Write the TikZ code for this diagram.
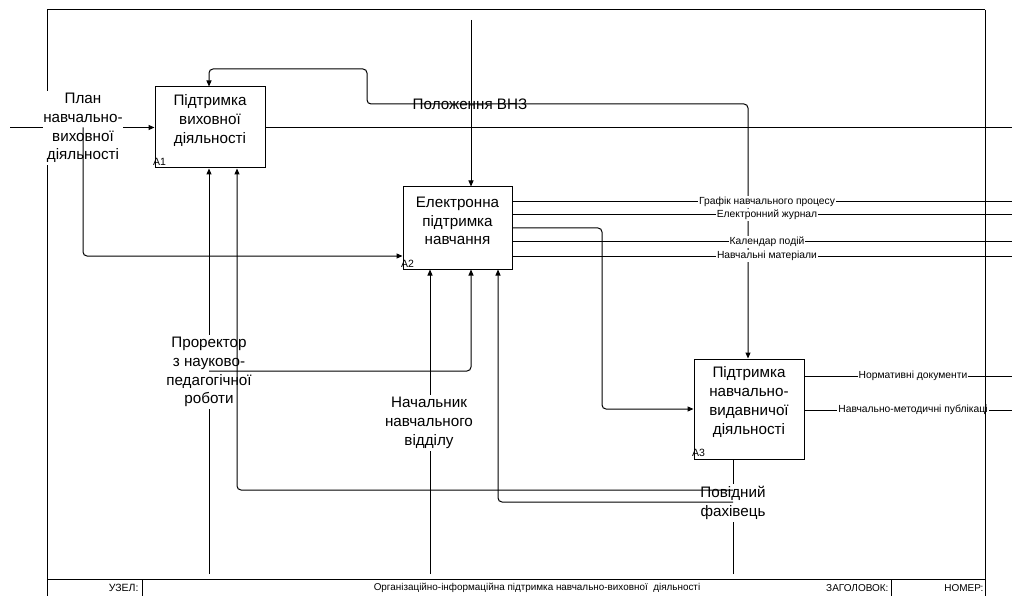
\documentclass[tikz,border=0pt]{standalone}
\usepackage{fontspec}
\setmainfont{Liberation Sans}
\usetikzlibrary{arrows.meta}
\begin{document}
\begin{tikzpicture}[x=1pt,y=-1pt, line width=1pt,
  >={Triangle[length=6pt,width=5pt]},
  boxnode/.style={draw, inner sep=0pt},
  boxtext/.style={align=center, font=\fontsize{15.2}{18.8}\selectfont, inner sep=0pt},
  lab/.style={align=center, font=\fontsize{15.2}{18.8}\selectfont, fill=white, inner xsep=0pt, inner ysep=2pt},
  ctl/.style={align=center, font=\fontsize{15.2}{18.8}\selectfont, inner sep=0pt},
  small/.style={font=\fontsize{10.3}{12}\selectfont, fill=white, inner xsep=1pt, inner ysep=1pt},
  idx/.style={font=\fontsize{10.5}{12}\selectfont, inner sep=0pt, anchor=south west},
  foot/.style={font=\fontsize{10}{12}\selectfont, inner sep=0pt},
  arr/.style={->, rounded corners=4pt},
  conn/.style={rounded corners=4pt}]
\useasboundingbox (0,0) rectangle (1012,596);
% frame
\draw (985,10) -- (47,10) -- (47,596);
\draw (47,579) -- (985,579);
\draw (142,579) -- (142,596);
\draw (891,579) -- (891,596);
% boxes
\node[boxnode, minimum width=110pt, minimum height=81pt] (A1) at (210,127.5) {};
\node[boxtext] (A1t) at (210,120.5) {Підтримка\\виховної\\діяльності};
\node[idx] (A1n) at ([xshift=-2pt,yshift=2pt]A1.south west) {A1};
\node[boxnode, minimum width=109pt, minimum height=82pt] (A2) at (457.5,228) {};
\node[boxtext] (A2t) at (457.5,221) {Електронна\\підтримка\\навчання};
\node[idx] (A2n) at ([xshift=-2pt,yshift=2pt]A2.south west) {A2};
\node[boxnode, minimum width=110pt, minimum height=100pt] (A3) at (749,409) {};
\node[boxtext] (A3t) at (749,402) {Підтримка\\навчально-\\видавничої\\діяльності};
\node[idx] (A3n) at ([xshift=-2pt,yshift=2pt]A3.south west) {A3};
% input
\coordinate (in) at (10,127.5);
\draw[->] (in) -- (A1.west);
\node[lab] (Lplan) at (83,128) {План\\навчально-\\виховної\\діяльності};
\coordinate (br1) at (83,127.5);
\draw[arr] (br1) -- (83,256) -- (A2.west |- 0,256);
% A1 output
\coordinate (o1) at (1012,127.5);
\draw (A1.east) -- (o1);
% control
\coordinate (c0) at (471,20);
\coordinate (cb) at (471,104);
\draw[->] (c0) -- (471,0 |- A2.north);
\draw[arr] (cb) -- (367,104) -- (367,69) -- (209,69) -- (209,0 |- A1.north);
\draw[arr] (cb) -- (748,104) -- (748,0 |- A3.north);
\node[ctl] (Lctl) at (470,104) {Положення ВНЗ};
% A2 outputs
\coordinate (o21) at (1012,202);
\coordinate (o22) at (1012,215);
\coordinate (o24) at (1012,242);
\coordinate (o25) at (1012,256);
\draw (A2.east |- 0,202) -- (o21);
\draw (A2.east |- 0,215) -- (o22);
\draw[arr] (A2.east |- 0,228) -- (602,228) -- (602,409) -- (A3.west);
\draw (A2.east |- 0,242) -- (o24);
\draw (A2.east |- 0,256) -- (o25);
\node[small] (L21) at (767,202) {Графік навчального процесу};
\node[small] (L22) at (767,215) {Електронний журнал};
\node[small] (L24) at (767,242) {Календар подій};
\node[small] (L25) at (767,256) {Навчальні матеріали};
% A3 outputs
\coordinate (o31) at (1012,376);
\coordinate (o32) at (1012,410);
\draw (A3.east |- 0,376) -- (o31);
\draw (A3.east |- 0,410) -- (o32);
\node[small] (L31) at (913,376) {Нормативні документи};
\node[small] (L32) at (913,410) {Навчально-методичні публікаці};
% mechanisms
\coordinate (m1) at (209,574);
\coordinate (m2) at (430,574);
\coordinate (m3) at (733,574);
\draw[->] (m1) -- (209,0 |- A1.south);
\draw[->] (m2) -- (430,0 |- A2.south);
\draw (m3) -- (733,0 |- A3.south);
\node[lab] (Lpro) at (209,372) {Проректор\\з науково-\\педагогічної\\роботи};
\node[lab] (Lnach) at (429,423) {Начальник\\навчального\\відділу};
\node[lab] (Lpov) at (733,503) {Повідний\\фахівець};
\draw[arr] (209,371) -- (471,371) -- (471,0 |- A2.south);
\draw[arr] (733,490) -- (237,490) -- (237,0 |- A1.south);
\draw[arr] (733,502) -- (498,502) -- (498,0 |- A2.south);
% right border
\draw (985,10) -- (985,596);
% footer
\node[foot, anchor=east, font=\fontsize{10.5}{12}\selectfont] (uz) at (139,588) {УЗЕЛ:};
\node[foot, font=\fontsize{9.9}{12}\selectfont] (ttl) at (537,588) {Організаційно-інформаційна підтримка навчально-виховної~ діяльності};
\node[foot, anchor=east] (zg) at (889,588) {ЗАГОЛОВОК:};
\node[foot, anchor=east] (nm) at (984,588) {НОМЕР:};
\end{tikzpicture}
\end{document}
